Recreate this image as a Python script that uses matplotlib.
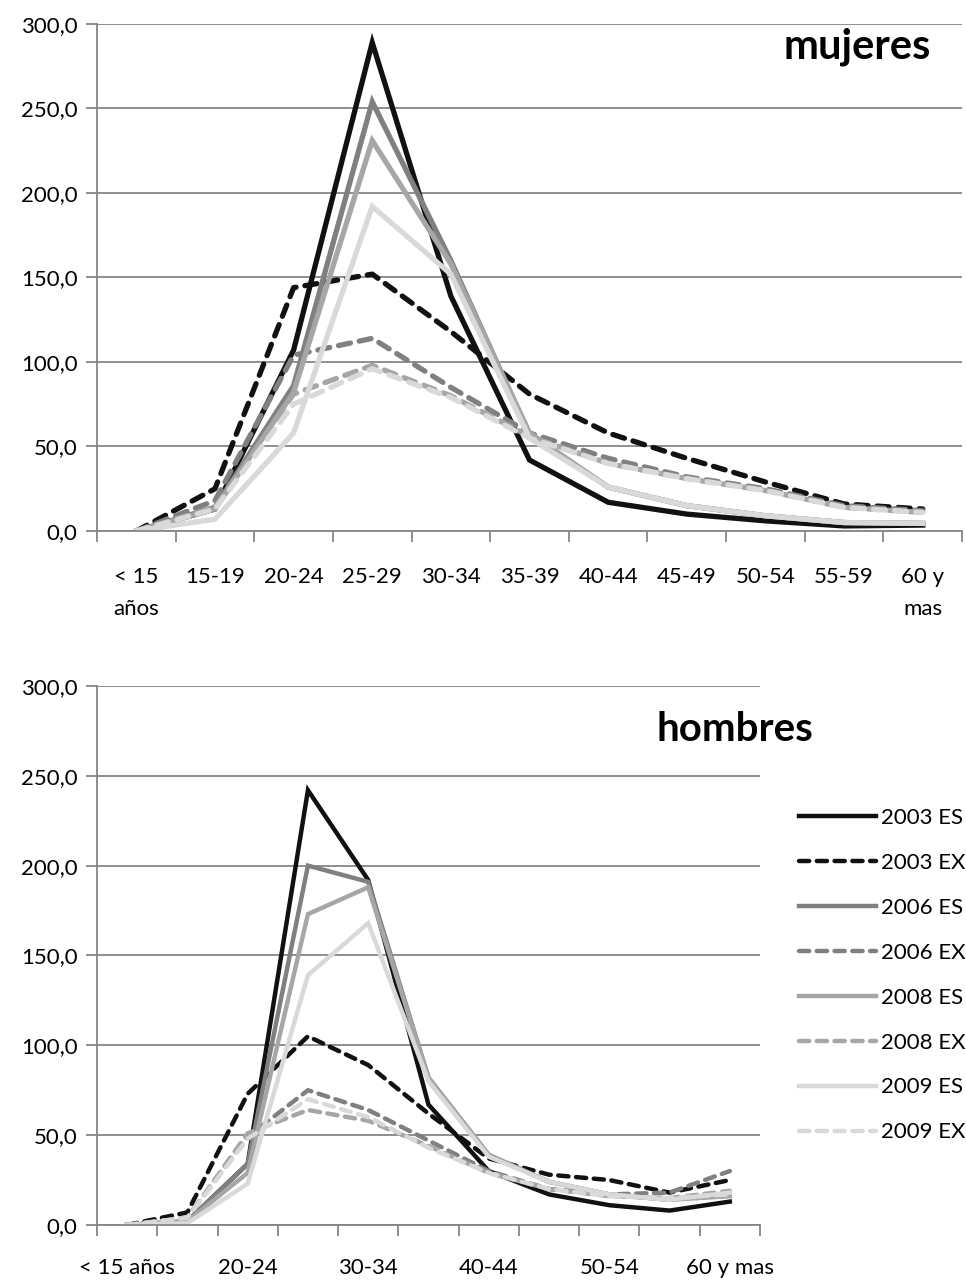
import numpy as np
import matplotlib
matplotlib.use('Agg')
from matplotlib import pyplot as plt

plt.rcParams['font.family'] = ['Lato', 'DejaVu Sans']

# categorias de edad
grupos = ['< 15\naños', '15-19', '20-24', '25-29', '30-34', '35-39',
          '40-44', '45-49', '50-54', '55-59', '60 y\nmas']
grupos_h = ['< 15 años', '20-24', '30-34', '40-44', '50-54', '60 y mas']
series = ['2003 ES', '2003 EX', '2006 ES', '2006 EX',
          '2008 ES', '2008 EX', '2009 ES', '2009 EX']

# mujeres
m_2003_es = [0, 13, 107, 289, 139, 42, 17, 10, 6, 3, 3.5]
m_2003_ex = [0, 25, 144, 152, 118, 81, 58, 43, 29, 16, 13]
m_2006_es = [0, 14, 86, 254, 160, 57, 26, 15, 9, 5, 4.5]
m_2006_ex = [0, 18, 104, 114, 85, 58, 43, 32, 25, 15, 12]
m_2008_es = [0, 13, 82, 231, 158, 58, 26, 15, 9, 5, 4.5]
m_2008_ex = [0, 14, 81, 98, 80, 56, 40, 31, 24, 14, 11]
m_2009_es = [0, 7, 58, 192, 152, 55, 26, 15, 9, 5, 4.5]
m_2009_ex = [0, 13, 75, 96, 79, 55, 40, 31, 24, 14, 11]

# hombres
h_2003_es = [0, 2, 34, 242, 192, 67, 30, 17, 11, 8, 13]
h_2003_ex = [0, 7, 73, 105, 89, 62, 37, 28, 25, 18, 25]
h_2006_es = [0, 2, 34, 200, 191, 82, 39, 24, 17, 14, 17]
h_2006_ex = [0, 4, 49, 75, 64, 47, 30, 20, 17, 18, 30]
h_2008_es = [0, 2, 29, 173, 188, 82, 39, 24, 17, 14, 16]
h_2008_ex = [0, 4, 51, 64, 58, 44, 29, 20, 16, 15, 19]
h_2009_es = [0, 1, 23, 139, 168, 80, 38, 24, 17, 14, 18]
h_2009_ex = [0, 4, 48, 70, 60, 43, 29, 20, 16, 15, 17]

mujeres = [m_2003_es, m_2003_ex, m_2006_es, m_2006_ex,
           m_2008_es, m_2008_ex, m_2009_es, m_2009_ex]
hombres = [h_2003_es, h_2003_ex, h_2006_es, h_2006_ex,
           h_2008_es, h_2008_ex, h_2009_es, h_2009_ex]

colores = ['#111111', '#111111', '#808080', '#808080',
           '#a6a6a6', '#a6a6a6', '#d9d9d9', '#d9d9d9']
gris = '#868686'
x = np.arange(len(grupos))

fig = plt.figure(figsize=(9.66, 12.82), dpi=100)
ax1 = fig.add_axes([0.1004, 0.5858, 0.8955, 0.3955])
ax2 = fig.add_axes([0.1004, 0.0445, 0.6863, 0.4204])


def dibujar(ax, datos, lw):
    for i, (d, c) in enumerate(zip(datos, colores)):
        if i % 2 == 0:
            ax.plot(x, d, color=c, lw=lw, solid_joinstyle='miter', label=series[i])
        else:
            ax.plot(x, d, color=c, lw=lw, ls=(0, (2.3, 1.7)),
                    dash_capstyle='round', label=series[i])
    ax.set_xlim(-0.5, 10.5)
    ax.set_ylim(0, 300)
    ax.set_yticks(np.arange(0, 301, 50))
    ax.yaxis.set_major_formatter(plt.FuncFormatter(lambda v, p: ('%.1f' % v).replace('.', ',')))
    ax.grid(axis='y', color=gris, lw=1.3)
    ax.set_axisbelow(True)
    for s in ['top', 'right']:
        ax.spines[s].set_visible(False)
    for s in ['left', 'bottom']:
        ax.spines[s].set_color(gris)
        ax.spines[s].set_linewidth(1.3)
    ax.set_xticks(np.arange(-0.5, 11, 1))
    ax.set_xticklabels([])
    ax.tick_params(axis='x', which='major', length=8, width=1.3, color=gris)
    ax.tick_params(axis='x', which='minor', length=0, labelsize=16)
    ax.tick_params(axis='y', length=8, width=1.3, color=gris, labelsize=16, pad=6)


dibujar(ax1, mujeres, 3.8)
ax1.set_xticks(x, minor=True)
ax1.set_xticklabels(grupos, minor=True, linespacing=1.75, va='top')
ax1.tick_params(axis='x', which='minor', pad=26)
ax1.text(0.879, 0.955, 'mujeres', transform=ax1.transAxes, fontsize=30,
         fontweight='bold', ha='center', va='center')

dibujar(ax2, hombres, 3.2)
ax2.set_xticks(x[::2], minor=True)
ax2.set_xticklabels(grupos_h, minor=True)
ax2.tick_params(axis='x', which='minor', pad=24)
ax2.text(0.962, 0.92, 'hombres', transform=ax2.transAxes, fontsize=29,
         fontweight='bold', ha='center', va='center', clip_on=False)

ax2.legend(loc='upper left', bbox_to_anchor=(1.045, 0.79), frameon=False,
           fontsize=16, handlelength=3.5, handletextpad=0.2, labelspacing=1.12,
           borderaxespad=0)

fig.savefig('out.png', dpi=100)
